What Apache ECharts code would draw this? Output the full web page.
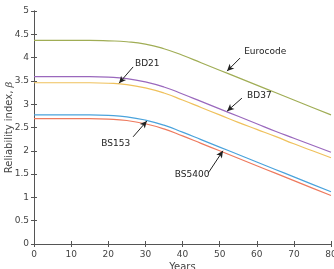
<!DOCTYPE html>
<html><head><meta charset="utf-8">
<script src="https://cdn.jsdelivr.net/npm/echarts@6/dist/echarts.min.js"></script>
<style>html,body{margin:0;padding:0;background:#fff}#c{width:334px;height:269px}</style>
</head><body><div id="c"></div>
<script>
const years = [0,5,10,15,20,25,30,35,40,45,50,55,60,65,70,75,80];
const eurocode = [4.37,4.37,4.37,4.37,4.36,4.34,4.29,4.19,4.05,3.89,3.73,3.57,3.41,3.25,3.09,2.93,2.77];
const bd21 = [3.59,3.59,3.59,3.59,3.58,3.55,3.48,3.37,3.22,3.06,2.90,2.74,2.58,2.42,2.27,2.12,1.97];
const bd37 = [3.46,3.46,3.46,3.46,3.45,3.42,3.35,3.24,3.09,2.93,2.77,2.61,2.46,2.31,2.15,2.00,1.85];
const bs153 = [2.77,2.77,2.77,2.77,2.76,2.73,2.66,2.55,2.40,2.24,2.08,1.92,1.76,1.60,1.44,1.28,1.12];
const bs5400 = [2.69,2.69,2.69,2.69,2.68,2.65,2.58,2.47,2.32,2.16,2.00,1.84,1.68,1.52,1.36,1.20,1.04];
// annotations: [label, textX, textY, align, arrowFrom, arrowTo]
const notes = [
  ['Eurocode', 56.6, 4.12, 'left', [55.5,3.99], [52.0,3.71]],
  ['BD21', 27.2, 3.86, 'left', [26.7,3.80], [22.9,3.45]],
  ['BD37', 57.4, 3.18, 'left', [56.0,3.13], [52.0,2.85]],
  ['BS153', 22.0, 2.15, 'center', [26.7,2.30], [30.4,2.64]],
  ['BS5400', 42.6, 1.48, 'center', [46.9,1.52], [50.9,2.00]]
];
const colors = ['#a0ad55','#9a68bd','#efc15c','#4aa3dc','#ee7a5e'];
const seriesData = [eurocode, bd21, bd37, bs153, bs5400];
const lab = {fontFamily:'DejaVu Sans', fontSize:9, color:'#444'};
const chart = echarts.init(document.getElementById('c'));
const series = seriesData.map((d,i)=>({
  type:'line', data: years.map((y,j)=>[y,d[j]]), smooth:0.5, symbol:'none',
  lineStyle:{color:colors[i], width:1.2}, z:2
}));
series.push({
  type:'scatter', data:[], silent:true,
  markLine:{silent:true, symbol:['none','arrow'], symbolSize:[5,7],
    lineStyle:{color:'#222', width:1, type:'solid'}, label:{show:false},
    data: notes.map(n=>[{coord:n[4]},{coord:n[5]}])},
  markPoint:{silent:true, symbol:'circle', symbolSize:0,
    data: notes.map(n=>({coord:[n[1],n[2]], label:{show:true, formatter:n[0], align:n[3], verticalAlign:'middle', fontFamily:'DejaVu Sans', fontSize:9, color:'#222'}}))}
});
chart.setOption({
  animation:false,
  grid:{left:34, right:3, top:11, bottom:25, containLabel:false, outerBoundsMode:'none'},
  xAxis:[{type:'value', min:0, max:80, interval:10, position:'bottom',
    name:'Years', nameLocation:'middle', nameGap:18, nameMoveOverlap:false, nameTextStyle:{fontFamily:'DejaVu Sans', fontSize:10, color:'#444', verticalAlign:'top'},
    axisLine:{lineStyle:{color:'#555'}}, axisTick:{inside:true, length:3, lineStyle:{color:'#555'}},
    axisLabel:{...lab, margin:6}, splitLine:{show:false}},
   {type:'value', min:0, max:80, interval:10, position:'top',
    axisLine:{lineStyle:{color:'#555'}}, axisTick:{inside:true, length:3, lineStyle:{color:'#555'}},
    axisLabel:{show:false}, splitLine:{show:false}}],
  yAxis:[{type:'value', min:0, max:5, interval:0.5, position:'left',
    name:'Reliability index, {i|β}', nameLocation:'middle', nameGap:20, nameMoveOverlap:false,
    nameTextStyle:{fontFamily:'DejaVu Sans', fontSize:10, color:'#444', rich:{i:{fontStyle:'italic', fontFamily:'DejaVu Serif', fontSize:10, color:'#444'}}},
    axisLine:{lineStyle:{color:'#555'}}, axisTick:{inside:true, length:3, lineStyle:{color:'#555'}},
    axisLabel:{...lab, margin:5}, splitLine:{show:false}},
   {type:'value', min:0, max:5, interval:0.5, position:'right',
    axisLine:{lineStyle:{color:'#555'}}, axisTick:{inside:true, length:3, lineStyle:{color:'#555'}},
    axisLabel:{show:false}, splitLine:{show:false}}],
  series: series
});
</script></body></html>
